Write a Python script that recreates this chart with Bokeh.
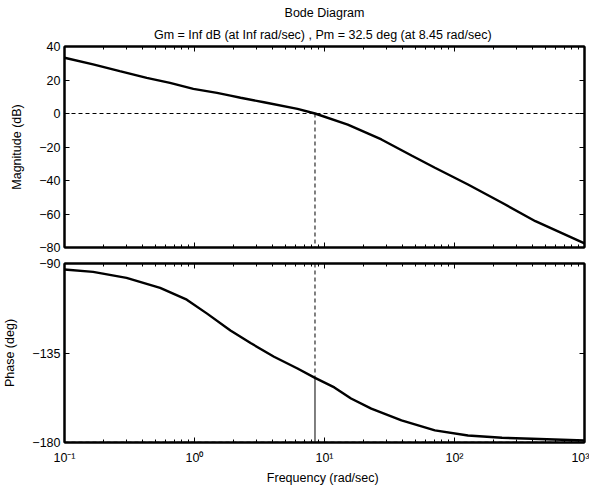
from bokeh.plotting import figure
from bokeh.layouts import column
from bokeh.models import (Span, LogAxis, LinearAxis, Title, FixedTicker, LogTicker,
                          CustomJSTickFormatter, Range1d)
from bokeh.embed import file_html
from bokeh.resources import INLINE

# ---- data ----
freq_mag = [0.1, 0.166, 0.266, 0.429, 0.648, 0.98, 1.49, 1.89, 2.26, 3.42, 6.2, 8.45,
            15.1, 27.4, 46.7, 70.7, 127, 232, 419, 1000]
mag_db = [33.3, 29.3, 25.3, 21.3, 18.3, 14.7, 12.3, 10.7, 9.4, 6.7, 2.8, 0.0,
          -6.6, -15.5, -25.1, -32.4, -42.4, -53.3, -64.3, -77.5]

freq_ph = [0.1, 0.166, 0.3, 0.544, 0.872, 1.25, 1.89, 2.70, 4.09, 6.20, 8.45, 11.9, 16.0,
           22.9, 39.1, 70.7, 127, 232, 393, 1000]
phase_deg = [-93.0, -94.2, -97.2, -102.3, -108.2, -115.2, -123.7, -130.0, -136.9, -142.8,
             -147.5, -152.3, -157.9, -163.0, -168.9, -173.9, -176.5, -177.6, -178.1, -179.0]

pm_freq = 8.45
pm_phase = -147.5
mag_ticks = [-80, -60, -40, -20, 0, 20, 40]
phase_ticks = [-180, -135, -90]

title_main = "Bode Diagram"
title_sub = "Gm = Inf dB (at Inf rad/sec) ,  Pm = 32.5 deg (at 8.45 rad/sec)"
xlabel = "Frequency  (rad/sec)"
ylabel_mag = "Magnitude (dB)"
ylabel_ph = "Phase (deg)"

FONT = "Liberation Sans"
FS = "12.5px"

sup_code = """
const sup = {'-':'\u207b','0':'\u2070','1':'\u00b9','2':'\u00b2','3':'\u00b3','4':'\u2074'};
const e = Math.round(Math.log10(tick));
return '10' + String(e).split('').map(c => sup[c]).join('');
"""


def style_axis(ax, labels=True):
    ax.major_tick_in = 5
    ax.major_tick_out = 0
    ax.minor_tick_in = 3
    ax.minor_tick_out = 0
    ax.axis_line_color = "black"
    ax.axis_line_width = 2
    ax.major_tick_line_color = "black"
    ax.minor_tick_line_color = "black"
    ax.major_label_text_font = FONT
    ax.major_label_text_color = "black"
    ax.major_label_text_font_size = FS
    ax.axis_label_text_font = FONT
    ax.axis_label_text_font_size = FS
    ax.axis_label_text_font_style = "normal"
    ax.axis_label_text_color = "black"
    if not labels:
        ax.major_label_text_font_size = "2px"
        ax.major_label_text_color = None
        ax.major_label_standoff = 0


def make_fig(height, y_lo, y_hi, yticks, ylabel, min_top, min_bottom, xlabels):
    p = figure(width=589, height=height, x_axis_type="log",
               x_range=Range1d(0.1, 1000), y_range=Range1d(y_lo, y_hi),
               output_backend="svg", toolbar_location=None,
               min_border_left=63, min_border_right=5,
               min_border_top=min_top, min_border_bottom=min_bottom)
    p.xgrid.visible = False
    p.ygrid.visible = False
    p.outline_line_color = "black"
    p.outline_line_width = 2
    p.background_fill_color = "white"
    p.border_fill_color = "white"

    p.xaxis.ticker = LogTicker(num_minor_ticks=10)
    p.xaxis.formatter = CustomJSTickFormatter(code=sup_code)
    style_axis(p.xaxis[0], labels=xlabels)
    if xlabels:
        p.xaxis.axis_label = xlabel
        p.xaxis.major_label_standoff = 8
        p.xaxis.axis_label_standoff = 3

    p.yaxis.ticker = FixedTicker(ticks=yticks)
    p.yaxis.axis_label = ylabel
    p.yaxis.major_label_standoff = 4
    p.yaxis.axis_label_standoff = 12
    style_axis(p.yaxis[0])
    p.yaxis.minor_tick_line_color = None

    top = LogAxis(ticker=LogTicker(num_minor_ticks=10))
    style_axis(top, labels=False)
    p.add_layout(top, "above")
    right = LinearAxis(ticker=FixedTicker(ticks=yticks))
    style_axis(right, labels=False)
    right.minor_tick_line_color = None
    p.add_layout(right, "right")
    return p


# ---- magnitude ----
p1 = make_fig(256, mag_ticks[0], mag_ticks[-1], mag_ticks, ylabel_mag, 46, 9, False)
p1.add_layout(Title(text=title_sub, align="center", text_font=FONT, text_font_size=FS,
                    text_font_style="normal", text_color="black",
                    vertical_align="top", standoff=3.5), "above")
p1.add_layout(Title(text=title_main, align="center", text_font=FONT, text_font_size=FS,
                    text_font_style="normal", text_color="black",
                    vertical_align="top", standoff=7.5), "above")
p1.add_layout(Span(location=0, dimension="width", line_color="black",
                   line_dash="4 3", line_width=1))
p1.segment(x0=[pm_freq], y0=[0], x1=[pm_freq], y1=[mag_ticks[0]],
           line_color="black", line_dash="4 3", line_width=1)
p1.line(freq_mag, mag_db, line_color="black", line_width=2.4)

# ---- phase ----
p2 = make_fig(231, phase_ticks[0], phase_ticks[-1], phase_ticks, ylabel_ph, 7, 45, True)
p2.add_layout(Span(location=phase_ticks[0], dimension="width", line_color="black",
                   line_dash="4 3", line_width=1.5))
p2.segment(x0=[pm_freq], y0=[phase_ticks[-1]], x1=[pm_freq], y1=[pm_phase],
           line_color="black", line_dash="4 3", line_width=1)
p2.segment(x0=[pm_freq], y0=[pm_phase], x1=[pm_freq], y1=[phase_ticks[0]],
           line_color="black", line_width=1)
p2.line(freq_ph, phase_deg, line_color="black", line_width=2.4)

layout = column(p1, p2, spacing=0)
open("out.html", "w").write(file_html(layout, INLINE))
